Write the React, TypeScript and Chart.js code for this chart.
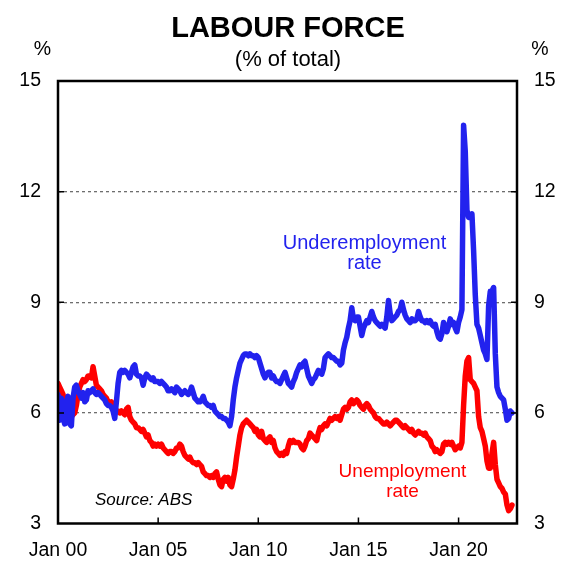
import React, { useEffect, useRef } from 'react';
import { Chart, registerables } from 'chart.js';

Chart.register(...registerables);

const FONT = '"Liberation Sans", Arial, sans-serif';

// x values are months since Jan 2000
const tickMonths = [0, 60, 120, 180, 240];
const tickLabels = ['Jan 00', 'Jan 05', 'Jan 10', 'Jan 15', 'Jan 20'];
const yTicks = [3, 6, 9, 12, 15];

// monthly, Jan 2000 - Sep 2022
const unemployment = [
  6.8, 6.7, 6.6, 6.5, 6.3, 6.2, 6.1, 6.0, 5.9, 5.95, 6.0, 6.2,
  6.5, 6.7, 6.8, 6.9, 6.85, 6.9, 7.0, 7.0, 6.95, 7.25, 7.0, 6.75,
  6.7, 6.65, 6.6, 6.5, 6.45, 6.4, 6.3, 6.25, 6.3, 6.2, 6.15, 6.05,
  6.05, 6.0, 6.05, 6.0, 5.95, 6.1, 6.15, 5.9, 5.8, 5.75, 5.7, 5.6,
  5.6, 5.55, 5.5, 5.55, 5.45, 5.35, 5.4, 5.25, 5.2, 5.1, 5.15, 5.1,
  5.15, 5.1, 5.15, 5.05, 5.0, 4.95, 4.9, 4.95, 4.95, 4.9, 4.95, 5.05,
  5.05, 5.15, 5.1, 4.95, 4.85, 4.8, 4.75, 4.8, 4.7, 4.65, 4.65, 4.6,
  4.65, 4.6, 4.55, 4.4, 4.35, 4.3, 4.3, 4.25, 4.3, 4.25, 4.35, 4.4,
  4.2, 4.05, 4.0, 4.2, 4.25, 4.15, 4.25, 4.05, 4.0, 4.2, 4.45, 4.8,
  5.1, 5.4, 5.6, 5.7, 5.75, 5.8, 5.75, 5.7, 5.65, 5.6, 5.5, 5.55,
  5.4, 5.35, 5.5, 5.3, 5.25, 5.2, 5.3, 5.35, 5.2, 5.25, 5.05, 4.95,
  4.9, 4.85, 4.9, 4.85, 4.95, 4.9, 5.1, 5.25, 5.2, 5.25, 5.2, 5.2,
  5.2, 5.15, 5.05, 5.0, 5.1, 5.25, 5.3, 5.45, 5.4, 5.35, 5.3, 5.25,
  5.45, 5.6, 5.55, 5.65, 5.7, 5.65, 5.75, 5.85, 5.8, 5.85, 5.9, 5.85,
  5.9, 5.8, 5.95, 6.1, 6.15, 6.1, 6.15, 6.3, 6.35, 6.25, 6.3, 6.35,
  6.3, 6.2, 6.15, 6.1, 6.2, 6.25, 6.2, 6.1, 6.05, 6.0, 5.9, 5.85,
  5.85, 5.8, 5.75, 5.7, 5.7, 5.75, 5.7, 5.65, 5.7, 5.75, 5.8, 5.8,
  5.75, 5.7, 5.65, 5.6, 5.65, 5.6, 5.55, 5.5, 5.55, 5.45, 5.4, 5.45,
  5.5, 5.45, 5.45, 5.4, 5.45, 5.35, 5.3, 5.25, 5.1, 5.05, 4.95, 5.0,
  4.95, 4.9, 4.95, 5.15, 5.2, 5.15, 5.2, 5.15, 5.2, 5.1, 5.0, 5.05,
  5.1, 5.05, 5.2, 6.2, 7.0, 7.4, 7.5, 6.9, 6.85, 6.8, 6.7, 6.6,
  5.9, 5.6, 5.5, 5.3, 5.1, 4.7, 4.5, 4.5, 4.9, 5.2, 4.6, 4.2,
  4.1, 4.0, 3.95, 3.85, 3.8, 3.5, 3.35, 3.4, 3.5,
];

const underemployment = [
  6.5, 5.8, 6.4, 5.9, 5.7, 6.3, 6.45, 5.7, 5.65, 6.4, 6.7, 6.75,
  6.6, 6.5, 6.4, 6.55, 6.3, 6.35, 6.6, 6.55, 6.6, 6.65, 6.55, 6.5,
  6.55, 6.5, 6.45, 6.4, 6.35, 6.25, 6.2, 6.2, 6.15, 6.05, 5.85, 6.3,
  6.8, 7.1, 7.15, 7.1, 7.15, 7.1, 7.05, 6.95, 7.1, 7.25, 7.3, 7.05,
  7.0, 7.0, 6.95, 6.75, 6.95, 7.05, 7.0, 6.95, 6.9, 6.95, 6.85, 6.85,
  6.85, 6.8, 6.85, 6.8, 6.75, 6.7, 6.6, 6.6, 6.65, 6.6, 6.55, 6.7,
  6.65, 6.6, 6.5, 6.55, 6.6, 6.55, 6.5, 6.55, 6.7, 6.55, 6.4, 6.35,
  6.3, 6.3, 6.35, 6.45, 6.3, 6.25, 6.2, 6.2, 6.15, 6.2, 6.05, 6.0,
  5.95, 5.9, 5.9, 5.85, 5.85, 5.8, 5.75, 5.65, 5.9, 6.35, 6.7, 6.95,
  7.15, 7.35, 7.45, 7.55, 7.6, 7.6, 7.55, 7.6, 7.55, 7.55, 7.5, 7.55,
  7.5, 7.35, 7.2, 7.05, 6.95, 7.05, 7.1, 7.1, 6.95, 7.0, 6.9, 6.85,
  6.85, 6.8, 6.9, 7.0, 7.1, 6.95, 6.8, 6.75, 6.7, 6.85, 6.95, 7.1,
  7.2, 7.3, 7.25, 7.35, 7.4, 7.2, 7.0, 6.9, 6.8, 6.9, 6.95, 7.05,
  7.15, 7.1, 7.05, 7.2, 7.5, 7.55, 7.6, 7.55, 7.5, 7.5, 7.45, 7.4,
  7.4, 7.3, 7.35, 7.7, 7.9, 8.05, 8.3, 8.5, 8.85, 8.55, 8.5, 8.6,
  8.6, 8.35, 8.1, 8.3, 8.4, 8.5, 8.45, 8.6, 8.75, 8.6, 8.5, 8.45,
  8.4, 8.35, 8.4, 8.35, 8.3, 8.6, 9.05, 8.7, 8.5, 8.55, 8.6, 8.65,
  8.75, 8.8, 9.0, 8.8, 8.65, 8.55, 8.5, 8.45, 8.55, 8.5, 8.5, 8.55,
  8.75, 8.6, 8.5, 8.5, 8.45, 8.5, 8.45, 8.5, 8.4, 8.35, 8.4, 8.2,
  8.05, 8.0, 8.15, 8.45, 8.3, 8.2, 8.35, 8.55, 8.4, 8.45, 8.3, 8.2,
  8.45, 8.6, 8.8, 13.8, 13.1, 11.5, 11.3, 11.3, 11.4, 10.4, 9.2, 8.4,
  8.3, 8.1, 7.9, 7.7, 7.6, 7.45, 8.9, 9.3, 9.3, 9.4, 7.6, 6.7,
  6.55, 6.45, 6.4, 6.35, 6.1, 5.8, 5.85, 6.05, 6.0,
];

const BLUE = '#2222EE';
const RED = '#FF0000';

// frame, inward tick marks and the chart's text
const decorations = {
  id: 'decorations',
  afterDraw(chart: any) {
    const { ctx, chartArea: a, scales } = chart;
    ctx.save();
    ctx.strokeStyle = '#000';
    ctx.lineWidth = 1.5;
    ctx.beginPath();
    tickMonths.forEach((m) => {
      const x = scales.x.getPixelForValue(m);
      ctx.moveTo(x, a.bottom);
      ctx.lineTo(x, a.bottom - 6);
    });
    yTicks.slice(1, -1).forEach((v) => {
      const y = scales.y.getPixelForValue(v);
      ctx.moveTo(a.left, y);
      ctx.lineTo(a.left + 6, y);
      ctx.moveTo(a.right, y);
      ctx.lineTo(a.right - 6, y);
    });
    ctx.stroke();
    ctx.lineWidth = 2.5;
    ctx.strokeRect(a.left, a.top, a.right - a.left, a.bottom - a.top);

    ctx.fillStyle = '#000';
    ctx.textAlign = 'center';
    ctx.textBaseline = 'alphabetic';
    ctx.font = `bold 29px ${FONT}`;
    ctx.fillText('LABOUR FORCE', 288, 37);
    ctx.font = `22px ${FONT}`;
    ctx.fillText('(% of total)', 288, 66);
    ctx.font = `19.5px ${FONT}`;
    ctx.fillText('%', 42.5, 55);
    ctx.fillText('%', 540, 55);

    ctx.textAlign = 'left';
    ctx.font = `italic 17px ${FONT}`;
    ctx.fillText('Source: ABS', 95, 505);

    ctx.textAlign = 'center';
    ctx.fillStyle = BLUE;
    ctx.font = `20px ${FONT}`;
    ctx.fillText('Underemployment', 364.5, 248.5);
    ctx.fillText('rate', 364.5, 268.5);
    ctx.fillStyle = RED;
    ctx.font = `19px ${FONT}`;
    ctx.fillText('Unemployment', 402.5, 477);
    ctx.fillText('rate', 402.5, 497);
    ctx.restore();
  },
};

const LabourForceChart = () => {
  const chartRef = useRef<HTMLCanvasElement>(null);

  useEffect(() => {
    if (chartRef.current == null) return;
    const ctx = chartRef.current.getContext('2d');
    if (ctx == null) return;

    const tickFont = { family: FONT, size: 19.5 };
    const myChart = new Chart(ctx, {
      type: 'line',
      data: {
        datasets: [
          {
            label: 'Underemployment rate',
            data: underemployment.map((v, i) => ({ x: i, y: v })),
            borderColor: BLUE,
            borderWidth: 5.5,
            pointRadius: 0,
            borderJoinStyle: 'round',
            borderCapStyle: 'round',
            tension: 0,
          },
          {
            label: 'Unemployment rate',
            data: unemployment.map((v, i) => ({ x: i, y: v })),
            borderColor: RED,
            borderWidth: 5.5,
            pointRadius: 0,
            borderJoinStyle: 'round',
            borderCapStyle: 'round',
            tension: 0,
          },
        ],
      },
      options: {
        responsive: false,
        animation: false,
        layout: { padding: { top: 81, left: 0, right: 0, bottom: 0 } },
        plugins: {
          legend: { display: false },
          title: { display: false },
          tooltip: { enabled: false },
        },
        scales: {
          x: {
            type: 'linear',
            min: 0,
            max: 275,
            afterFit: (scale: any) => { scale.height = 58.5; },
            grid: { display: false, drawTicks: false },
            border: { display: false },
            ticks: {
              stepSize: 60,
              includeBounds: false,
              autoSkip: false,
              maxRotation: 0,
              padding: 15,
              color: '#000',
              font: tickFont,
              callback: (value: any) => tickLabels[tickMonths.indexOf(Number(value))] ?? '',
            },
          },
          y: {
            position: 'left',
            min: 3,
            max: 15,
            afterFit: (scale: any) => { scale.width = 58; },
            grid: {
              drawTicks: false,
              lineWidth: 1.3,
              color: (c: any) => (c.tick && (c.tick.value === 3 || c.tick.value === 15) ? 'rgba(0,0,0,0)' : '#6e6e6e'),
            },
            border: { display: false, dash: [3, 3] },
            ticks: { stepSize: 3, padding: 17, color: '#000', font: tickFont },
          },
          y2: {
            position: 'right',
            min: 3,
            max: 15,
            afterFit: (scale: any) => { scale.width = 50; },
            grid: { display: false, drawTicks: false },
            border: { display: false },
            ticks: { stepSize: 3, padding: 17, color: '#000', font: tickFont },
          },
        },
      },
      plugins: [decorations],
    });

    return () => {
      myChart.destroy();
    };
  }, []);

  return (
    <div style={{ position: 'fixed', left: 0, top: 0, width: 567, height: 582, background: '#fff' }}>
      <canvas ref={chartRef} width={567} height={582} style={{ display: 'block' }} />
    </div>
  );
};

export default function App() {
  return <LabourForceChart />;
}
